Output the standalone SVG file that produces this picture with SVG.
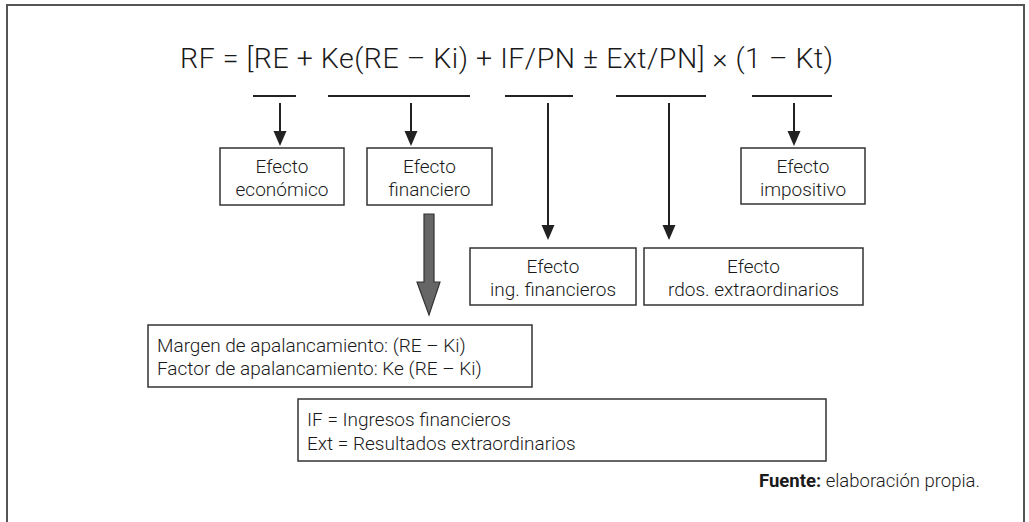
<svg xmlns="http://www.w3.org/2000/svg" width="1029" height="522" viewBox="0 0 1029 522">
<defs>
<style>
text{font-family:Roboto,"Liberation Sans",Arial,sans-serif;font-weight:300;fill:#1a1a1a}
.f{font-size:28.5px}
.t{font-size:19px}
.c{text-anchor:middle}
.box{fill:#fff;stroke:#333;stroke-width:1.5}
.ul{stroke:#222;stroke-width:2}
.ar{stroke:#222;stroke-width:2;fill:none}
.hd{fill:#222}
</style>
</defs>
<path d="M7,522 V5 H1024 V522" fill="none" stroke="#555" stroke-width="2"/>
<text class="f" x="180" y="68" textLength="653" lengthAdjust="spacing">RF = [RE + Ke(RE – Ki) + IF/PN ± Ext/PN] × (1 – Kt)</text>
<g id="connectors">
<line class="ul" x1="253" y1="96" x2="296" y2="96"/>
<line class="ul" x1="328" y1="96" x2="470" y2="96"/>
<line class="ul" x1="505" y1="96" x2="573" y2="96"/>
<line class="ul" x1="616" y1="96" x2="706" y2="96"/>
<line class="ul" x1="752" y1="96" x2="832" y2="96"/>
<line class="ar" x1="280" y1="103" x2="280" y2="134"/>
<polygon class="hd" points="273.5,131 286.5,131 280,146"/>
<line class="ar" x1="411" y1="103" x2="411" y2="134"/>
<polygon class="hd" points="404.5,131 417.5,131 411,146"/>
<line class="ar" x1="548" y1="103" x2="548" y2="228"/>
<polygon class="hd" points="541.5,225 554.5,225 548,240"/>
<line class="ar" x1="669" y1="103" x2="669" y2="228"/>
<polygon class="hd" points="662.5,225 675.5,225 669,240"/>
<line class="ar" x1="794" y1="103" x2="794" y2="134"/>
<polygon class="hd" points="787.5,131 800.5,131 794,146"/>
<polygon points="424,214 434,214 434,282 440,282 429,315 417,282 424,282" fill="#666" stroke="#333" stroke-width="1.2"/>
</g>
<g id="efecto-economico">
<rect class="box" x="220" y="148" width="124" height="57"/>
<text class="t c" x="282" y="173">Efecto</text>
<text class="t c" x="282" y="196">económico</text>
</g>
<g id="efecto-financiero">
<rect class="box" x="367" y="148" width="125" height="57"/>
<text class="t c" x="429.5" y="173">Efecto</text>
<text class="t c" x="429.5" y="196">financiero</text>
</g>
<g id="efecto-impositivo">
<rect class="box" x="741" y="148" width="124" height="56"/>
<text class="t c" x="803" y="173">Efecto</text>
<text class="t c" x="803" y="196">impositivo</text>
</g>
<g id="efecto-ing">
<rect class="box" x="470" y="248" width="166" height="57"/>
<text class="t c" x="553" y="273">Efecto</text>
<text class="t c" x="553" y="296">ing. financieros</text>
</g>
<g id="efecto-rdos">
<rect class="box" x="644" y="248" width="219" height="57"/>
<text class="t c" x="753.5" y="273">Efecto</text>
<text class="t c" x="753.5" y="296">rdos. extraordinarios</text>
</g>
<g id="margen">
<rect class="box" x="148" y="325" width="384" height="62"/>
<text class="t" x="157" y="352">Margen de apalancamiento: (RE – Ki)</text>
<text class="t" x="157" y="375">Factor de apalancamiento: Ke (RE – Ki)</text>
</g>
<g id="leyenda">
<rect class="box" x="298" y="399" width="528" height="62"/>
<text class="t" x="307" y="426">IF = Ingresos financieros</text>
<text class="t" x="307" y="450">Ext = Resultados extraordinarios</text>
</g>
<text x="759" y="487" style="font-size:18.5px"><tspan font-weight="bold">Fuente:</tspan> elaboración propia.</text>
</svg>
